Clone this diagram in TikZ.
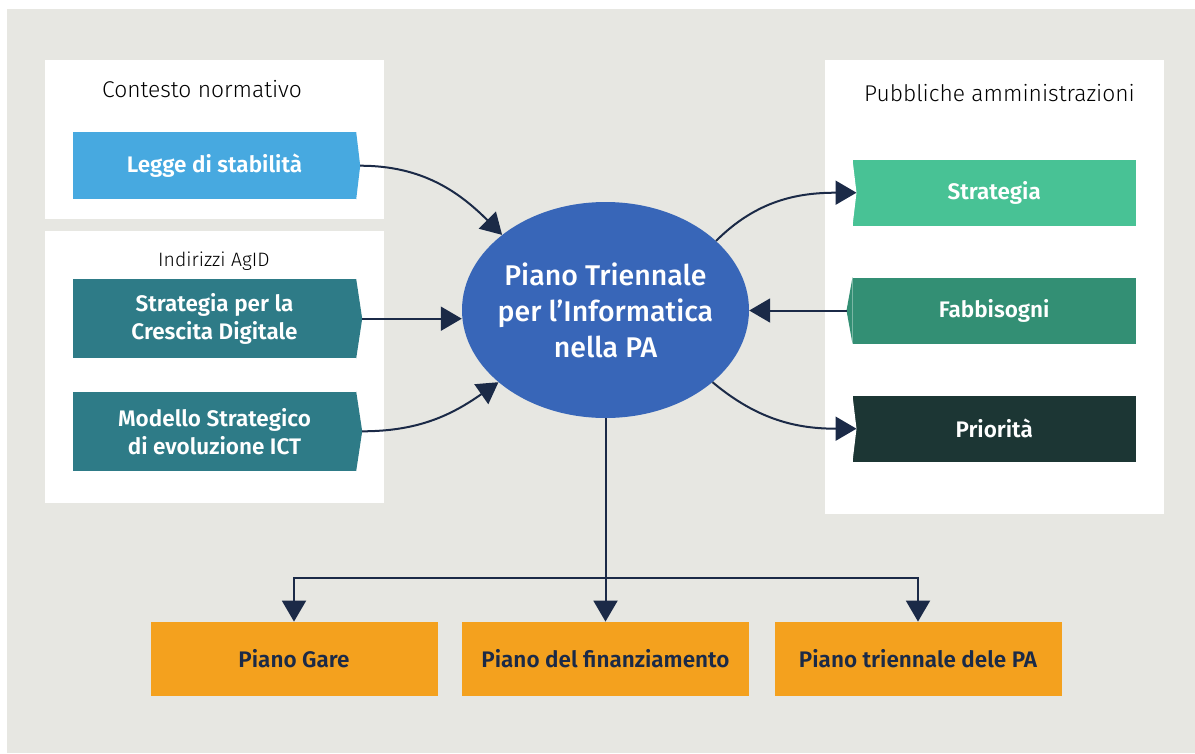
\documentclass[tikz,border=0pt]{standalone}
\usepackage{fontspec}
\setmainfont{Fira Sans}[BoldFont={Fira Sans SemiBold}]
\newfontfamily\lightfont{Fira Sans Light}
\newfontfamily\mediumfont{Fira Sans Medium}
\usetikzlibrary{arrows.meta,shapes.geometric}

\definecolor{bggray}{HTML}{E7E7E2}
\definecolor{sky}{HTML}{47A9E0}
\definecolor{teal}{HTML}{2E7B87}
\definecolor{mint}{HTML}{48C295}
\definecolor{sea}{HTML}{338F74}
\definecolor{pine}{HTML}{1C3634}
\definecolor{planblue}{HTML}{3866B8}
\definecolor{amber}{HTML}{F4A11E}
\definecolor{navy}{HTML}{1B2A47}

\begin{document}
\begin{tikzpicture}[x=1pt,y=1pt,
    box/.style={minimum width=283pt,inner sep=0pt,text=white,align=center,
      font=\bfseries\fontsize{22.5}{28}\selectfont},
    outbox/.style={minimum width=287pt,minimum height=74pt,inner sep=0pt,fill=amber,
      text=navy,font=\bfseries\fontsize{22.5}{28}\selectfont},
    head/.style={anchor=base west,inner sep=0pt,font=\lightfont\fontsize{22.8}{26}\selectfont},
    arr/.style={line width=2pt,draw=navy,-{Triangle[width=24pt,length=21pt]}}]
    \useasboundingbox (0,0) rectangle (1195,-753);
    \fill[bggray] (7,-9) rectangle (1195,-753);

    % panels
    \fill[white] (45,-60) rectangle (384,-219);
    \fill[white] (45,-231) rectangle (384,-503);
    \fill[white] (825,-60) rectangle (1164,-514);

    \node[head] (hdnorm) at (102,-97) {Contesto normativo};
    \node[head,font=\lightfont\fontsize{19.4}{22}\selectfont] (hdagid) at (158,-266) {Indirizzi AgID};
    \node[head] (hdpa) at (864,-101.5) {Pubbliche amministrazioni};

    % left boxes
    \node[box,fill=sky,minimum height=67pt] (legge) at (214.5,-165.7) {Legge di stabilità};
    \fill[sky] (legge.north east) -- ([xshift=4pt]legge.east) -- (legge.south east);
    \node[box,fill=teal,minimum height=79pt] (crescita) at (214.5,-318.7) {Strategia per la\\Crescita Digitale};
    \fill[teal] (crescita.north east) -- ([xshift=6pt]crescita.east) -- (crescita.south east);
    \node[box,fill=teal,minimum height=79pt] (modello) at (214.5,-431.3) {Modello Strategico\\di evoluzione ICT};
    \fill[teal] (modello.north east) -- ([xshift=6pt]modello.east) -- (modello.south east);

    % right boxes
    \node[box,fill=mint,minimum height=66pt] (strat) at (994.2,-192.7) {Strategia};
    \fill[white] (strat.north west) -- ([xshift=4pt]strat.west) -- (strat.south west);
    \node[box,fill=sea,minimum height=66pt] (fabb) at (994.2,-310.5) {Fabbisogni};
    \fill[sea] (fabb.north west) -- ([xshift=-6pt]fabb.west) -- (fabb.south west);
    \node[box,fill=pine,minimum height=66pt] (prio) at (994.2,-428.7) {Priorità};
    \fill[white] (prio.north west) -- ([xshift=4pt]prio.west) -- (prio.south west);

    % centre
    \node[ellipse,fill=planblue,minimum width=287pt,minimum height=216pt,inner sep=-30pt,
      text=white,align=center,font=\mediumfont\fontsize{28.5}{36}\selectfont] (piano) at (605.5,-310)
      {Piano Triennale\\per l’Informatica\\nella PA};

    % bottom boxes
    \node[outbox] (gare) at (294,-658.8) {Piano Gare};
    \node[outbox] (fin) at (605.5,-658.8) {Piano del finanziamento};
    \node[outbox] (tri) at (918,-658.8) {Piano triennale dele PA};

    % connectors
    \draw[arr] ([xshift=4pt]legge.east) to[out=0,in=135] (piano.144);
    \draw[arr] ([xshift=6pt]crescita.east) -- (crescita.east -| piano.west);
    \draw[arr] ([xshift=6pt]modello.east) to[out=0,in=215] (piano.214);
    \draw[arr] (piano.32) to[out=45,in=180] ([xshift=4pt]strat.west);
    \draw[arr] ([xshift=-6pt]fabb.west) -- (fabb.west -| piano.east);
    \draw[arr] (piano.-34) to[out=-40,in=180] ([xshift=4pt]prio.west);

    \path (piano.south) ++(0,-160) coordinate (split);
    \draw[line width=2pt,navy] (piano.south) -- (split);
    \draw[arr] (split) -- (fin.north);
    \draw[arr] (split) -| (gare.north);
    \draw[arr] (split) -| (tri.north);
\end{tikzpicture}
\end{document}
